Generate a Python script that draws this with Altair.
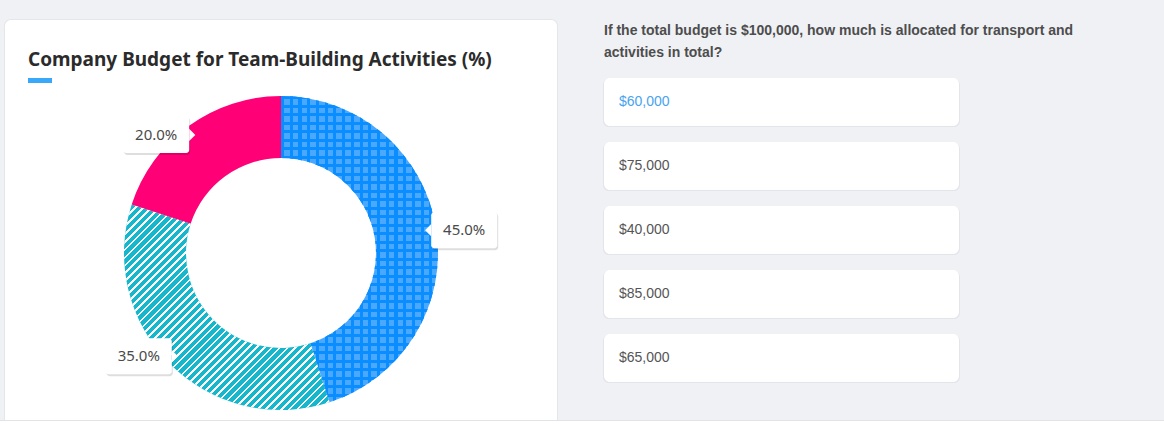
import altair as alt
import pandas as pd

# ---------------- data ----------------
categories = ["Activities", "Food & Venue", "Transport"]
shares = [45.0, 35.0, 20.0]
slice_colors = ["#4aa9ff", "#14b7cb", "#ff0077"]   # base fills (dots / stripes drawn on top)
title_text = "Company Budget for Team-Building Activities (%)"
question_lines = [
    "If the total budget is $100,000, how much is allocated for transport and",
    "activities in total?",
]
answer_options = ["$60,000", "$75,000", "$40,000", "$85,000", "$65,000"]
highlighted_option = "$60,000"

# ---------------- layout / style ----------------
W, H = 1164, 429
CX, CY = 281, 253
R_OUT, R_IN = 157, 95
R_LAB = 146
BG = "#f0f1f5"
DOT_BLUE = "#0a8dff"

pie_df = pd.DataFrame({"cat": categories, "value": shares, "idx": list(range(len(categories)))})
opt_df = pd.DataFrame({"option": answer_options, "k": list(range(len(answer_options)))})
one = pd.DataFrame({"a": [0]})


def stripe_gradient(color_a, color_b, n, frac_a, x2, y2):
    stops = []
    for i in range(n):
        s = i / n
        m = (i + frac_a) / n
        e = (i + 1) / n
        stops += [
            {"offset": s, "color": color_a},
            {"offset": m, "color": color_a},
            {"offset": m, "color": color_b},
            {"offset": e, "color": color_b},
        ]
    return {"gradient": "linear", "x1": 0, "y1": 0, "x2": x2, "y2": y2, "stops": stops}


# ---------------- page background pieces ----------------
card_shadow = alt.Chart(one).mark_rect(fill="#e4e6ea", cornerRadius=7).encode(
    x=alt.value(4), x2=alt.value(558), y=alt.value(19), y2=alt.value(429)
)
card = alt.Chart(one).mark_rect(fill="white", cornerRadius=6).encode(
    x=alt.value(5), x2=alt.value(557), y=alt.value(20), y2=alt.value(429)
)
bottom_strip = alt.Chart(one).mark_rect(fill="white").encode(
    x=alt.value(0), x2=alt.value(W), y=alt.value(420), y2=alt.value(H)
)
bottom_line = alt.Chart(one).mark_rect(fill="#e2e3e7").encode(
    x=alt.value(0), x2=alt.value(W), y=alt.value(420), y2=alt.value(421)
)

title = alt.Chart(one).mark_text(
    text=title_text, align="left", baseline="alphabetic", font="Noto Sans",
    fontWeight="bold", fontSize=19, color="#2b2b2b",
).encode(x=alt.value(28), y=alt.value(66))

underline = alt.Chart(one).mark_rect(fill="#3aa8f8").encode(
    x=alt.value(28), x2=alt.value(52), y=alt.value(78), y2=alt.value(83)
)

# ---------------- donut ----------------
base = alt.Chart(pie_df).encode(
    theta=alt.Theta("value:Q", stack=True),
    order=alt.Order("idx:Q"),
    x=alt.value(CX),
    y=alt.value(CY),
)
arcs = base.mark_arc(radius=R_OUT, innerRadius=R_IN).encode(
    color=alt.Color("cat:N", scale=alt.Scale(domain=categories, range=slice_colors), legend=None)
)
only_first = alt.when(alt.datum.cat == categories[0]).then(alt.value(1)).otherwise(alt.value(0))
only_second = alt.when(alt.datum.cat == categories[1]).then(alt.value(1)).otherwise(alt.value(0))

clear_blue = "rgba(10,141,255,0)"
dots_v = base.mark_arc(
    radius=R_OUT, innerRadius=R_IN,
    fill=stripe_gradient(DOT_BLUE, clear_blue, 18, 0.36, 1, 0),
).encode(opacity=only_first)
dots_h = base.mark_arc(
    radius=R_OUT, innerRadius=R_IN,
    fill=stripe_gradient(DOT_BLUE, clear_blue, 36, 0.36, 0, 1),
).encode(opacity=only_first)
stripes = base.mark_arc(
    radius=R_OUT, innerRadius=R_IN,
    fill=stripe_gradient("rgba(255,255,255,0)", "#ffffff", 52, 0.66, 1, 1),
).encode(opacity=only_second)

# ---------------- callout labels ----------------
lab = (
    alt.Chart(pie_df)
    .transform_joinaggregate(total="sum(value)")
    .transform_window(cum="sum(value)", sort=[alt.SortField("idx")], frame=[None, 0])
    .transform_calculate(mid="2*PI*(datum.cum - datum.value/2)/datum.total")
    .transform_calculate(
        tipx=f"{CX} + {R_LAB}*sin(datum.mid)",
        tipy=f"{CY} - {R_LAB}*cos(datum.mid)",
        side="sin(datum.mid) >= 0 ? 1 : -1",
    )
    .transform_calculate(
        bx1="min(datum.tipx + datum.side*6, datum.tipx + datum.side*72)",
        bx2="max(datum.tipx + datum.side*6, datum.tipx + datum.side*72)",
        by1="datum.tipy - 18",
        by2="datum.tipy + 18",
        bcx="datum.tipx + datum.side*39",
        edge="datum.tipx + datum.side*6",
        sx1="min(datum.tipx + datum.side*6, datum.tipx + datum.side*72) + 1",
        sx2="max(datum.tipx + datum.side*6, datum.tipx + datum.side*72) + 1",
        sy1="datum.tipy - 17",
        sy2="datum.tipy + 20",
        shp="datum.side > 0 ? 'M 0 -1 L -1 0 L 0 1 Z' : 'M 0 -1 L 1 0 L 0 1 Z'",
        txt="format(datum.value, '.1f') + '%'",
    )
)
lab_shadow = lab.mark_rect(fill="#000000", opacity=0.13, cornerRadius=3).encode(
    x=alt.X("sx1:Q", scale=None), x2="sx2:Q",
    y=alt.Y("sy1:Q", scale=None), y2="sy2:Q",
)
lab_box = lab.mark_rect(fill="white", cornerRadius=3).encode(
    x=alt.X("bx1:Q", scale=None), x2="bx2:Q",
    y=alt.Y("by1:Q", scale=None), y2="by2:Q",
)
lab_ptr = lab.mark_point(filled=True, fill="white", opacity=1, size=150, strokeWidth=0).encode(
    x=alt.X("edge:Q", scale=None),
    y=alt.Y("tipy:Q", scale=None),
    shape=alt.Shape("shp:N", scale=None),
)
lab_txt = lab.mark_text(font="Noto Sans", fontSize=15, color="#4a4a4a", baseline="middle").encode(
    x=alt.X("bcx:Q", scale=None),
    y=alt.Y("tipy:Q", scale=None),
    text="txt:N",
)

# ---------------- quiz panel ----------------
question = alt.Chart(one).mark_text(
    text=question_lines, align="left", baseline="top", font="Liberation Sans",
    fontWeight="bold", fontSize=14, color="#4d4d4d", lineHeight=22,
).encode(x=alt.value(604), y=alt.value(24))

opt_scale = alt.Scale(type="band", range=[78, 382], paddingInner=0.25, paddingOuter=0)
opt_y = alt.Y("option:N", sort=answer_options, axis=None, scale=opt_scale)
opt_y_mid = alt.Y("option:N", sort=answer_options, axis=None, scale=opt_scale, bandPosition=0.5)
opt_shadow = alt.Chart(opt_df).mark_rect(fill="#e3e5ea", cornerRadius=6, yOffset=1).encode(
    y=opt_y, x=alt.value(603), x2=alt.value(960)
)
opt_card = alt.Chart(opt_df).mark_rect(fill="white", cornerRadius=6).encode(
    y=opt_y, x=alt.value(604), x2=alt.value(959)
)
opt_txt = alt.Chart(opt_df).mark_text(
    align="left", baseline="middle", font="Liberation Sans", fontSize=14
).encode(
    y=opt_y_mid,
    x=alt.value(619),
    text="option:N",
    color=alt.when(alt.datum.option == highlighted_option)
    .then(alt.value("#4aa3f0"))
    .otherwise(alt.value("#555555")),
)

chart = (
    alt.layer(
        card_shadow, card, bottom_strip, bottom_line, title, underline,
        arcs, dots_v, dots_h, stripes,
        lab_shadow, lab_box, lab_ptr, lab_txt,
        question, opt_shadow, opt_card, opt_txt,
    )
    .resolve_scale(y="independent", x="independent")
    .properties(width=W, height=H, padding=0, autosize=alt.AutoSizeParams(type="none"), background=BG)
    .configure_view(stroke=None)
)

chart.save("out.html", embed_options={"renderer": "svg", "actions": False})
